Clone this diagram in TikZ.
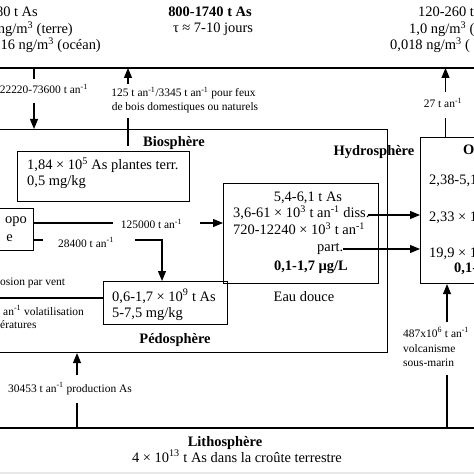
\documentclass[tikz,border=0pt]{standalone}
\usepackage{fontspec}
\setmainfont{Liberation Serif}
\usetikzlibrary{arrows.meta}
\tikzset{
  big/.style={inner sep=0pt, font=\fontsize{14.5}{17}\selectfont},
  bigb/.style={inner sep=0pt, font=\fontsize{14.5}{17}\selectfont\bfseries},
  sml/.style={inner sep=0pt, font=\fontsize{11.5}{14}\selectfont},
  bx/.style={draw, line width=1.1bp, inner sep=0pt, anchor=north west},
  ln/.style={line width=1.1bp},
  arr/.style={line width=1.1bp, -{Triangle[length=10bp,width=8bp]}},
}
\begin{document}
\begin{tikzpicture}[x=1bp,y=-1bp]
\useasboundingbox (0,0) rectangle (474,474);
\fill[white] (0,0) rectangle (474,474);
\fill[black!9] (0,472) rectangle (474,474);

% boxes
\node[bx, minimum width=397bp, minimum height=223bp] (big) at (-10,129) {};
\node[bx, minimum width=172bp, minimum height=50bp] (plant) at (17,151) {};
\node[bx, minimum width=43bp, minimum height=42bp] (anthro) at (-10,208) {};
\node[bx, minimum width=155bp, minimum height=100bp] (fresh) at (223,183) {};
\node[bx, minimum width=124bp, minimum height=43bp] (pedo) at (103,281) {};
\node[bx, minimum width=70bp, minimum height=146bp] (ocean) at (420,137) {};

% horizontal lines
\coordinate (topL) at (0,68);
\coordinate (topR) at (474,68);
\coordinate (litL) at (0,428);
\coordinate (litR) at (474,428);
\draw[ln] (topL) -- (topR);
\draw[ln] (litL) -- (litR);

% top texts
\node[big, anchor=base east] (tl1) at (38,17) {80 t As};
\node[big, anchor=base east] (tl2) at (73,34) {ng/m\textsuperscript{3} (terre)};
\node[big, anchor=base east] (tl3) at (101,50) {,16 ng/m\textsuperscript{3} (océan)};
\node[bigb, anchor=base] (tc1) at (210,17) {800-1740 t As};
\node[big, anchor=base] (tc2) at (213,33) {τ ≈ 7-10 jours};
\node[big, anchor=base west] (tr1) at (418,17) {120-260 t};
\node[big, anchor=base west] (tr2) at (409,34) {1,0 ng/m\textsuperscript{3} (};
\node[big, anchor=base west] (tr3) at (390,50) {0,018 ng/m\textsuperscript{3} (};

% arrow 1 (down)
\coordinate (a1a) at (34,68);
\coordinate (a1b) at (34,79);
\coordinate (a1c) at (34,103);
\draw[ln] (a1a) -- (a1b);
\draw[arr] (a1c) -- (big.north -| a1c);
\node[sml, anchor=base east] (l1) at (88,94) {22220-73600 t an\textsuperscript{-1}};

% arrow 2 (up)
\coordinate (a2a) at (128,146);
\coordinate (a2b) at (128,118);
\coordinate (a2c) at (128,84);
\draw[ln] (a2a) -- (a2b);
\draw[arr] (a2c) -- (topL -| a2c);
\node[sml, anchor=base] (l2a) at (183.5,97) {125 t an\textsuperscript{-1}/3345 t an\textsuperscript{-1} pour feux};
\node[sml, anchor=base] (l2b) at (185,111) {de bois domestiques ou naturels};

% arrow 3 (up)
\coordinate (a3a) at (445.5,118);
\coordinate (a3b) at (445.5,92);
\draw[ln] (ocean.north -| a3a) -- (a3a);
\draw[arr] (a3b) -- (topL -| a3b);
\node[sml, anchor=base] (l3) at (443,108) {27 t an\textsuperscript{-1}};

% biosphere
\node[bigb, anchor=base] (bio) at (174,147) {Biosphère};
\node[big, anchor=base west] (pl1) at (27,170) {1,84 × 10\textsuperscript{5} As plantes terr.};
\node[big, anchor=base west] (pl2) at (27,186) {0,5 mg/kg};

% anthroposphere
\node[big, anchor=base east] (an1) at (27,224) {opo};
\node[big, anchor=base east] (an2) at (13,241) {e};

% 125000 arrow
\coordinate (r1a) at (113,223);
\coordinate (r1b) at (200,223);
\draw[ln] (anthro.east |- r1a) -- (r1a);
\draw[arr] (r1b) -- (fresh.west |- r1b);
\node[sml, anchor=base] (lab125) at (151.5,229) {125000 t an\textsuperscript{-1}};

% 28400 arrow
\coordinate (r2a) at (43,240);
\coordinate (r2b) at (135,240);
\coordinate (r2c) at (162,240);
\draw[ln] (anthro.east |- r2a) -- (r2a);
\draw[arr] (r2b) -- (r2c) -- (pedo.north -| r2c);
\node[sml, anchor=base] (lab284) at (86,247) {28400 t an\textsuperscript{-1}};

% pedosphere
\node[big, anchor=base west] (pd1) at (112,301) {0,6-1,7 × 10\textsuperscript{9} t As};
\node[big, anchor=base west] (pd2) at (112,317) {5-7,5 mg/kg};
\node[bigb, anchor=base] (pedl) at (175,343) {Pédosphère};

% erosion / volatilisation
\coordinate (er) at (-5,298);
\draw[ln] (er) -- (pedo.west |- er);
\node[sml, anchor=base west] (er1) at (0,285) {osion par vent};
\node[sml, anchor=base west] (er2) at (3,315) {an\textsuperscript{-1} volatilisation};
\node[sml, anchor=base west] (er3) at (0,328) {ératures};

% freshwater
\node[big, anchor=base] (f1) at (308,202) {5,4-6,1 t As};
\node[big, anchor=base west] (f2) at (233,218) {3,6-61 × 10\textsuperscript{3} t an\textsuperscript{-1} diss.};
\node[big, anchor=base west] (f3) at (233,235) {720-12240 × 10\textsuperscript{3} t an\textsuperscript{-1}};
\node[big, anchor=base west] (f4) at (317,251) {part.};
\node[bigb, anchor=base] (f5) at (311,270) {0,1-1,7 µg/L};
\node[big, anchor=base] (eau) at (304,301) {Eau douce};
\node[bigb, anchor=base] (hyd) at (374,156) {Hydrosphère};

% arrows to ocean
\coordinate (d1) at (368,215);
\coordinate (p1) at (343,249);
\draw[arr] (d1) -- (ocean.west |- d1);
\draw[arr] (p1) -- (ocean.west |- p1);

% ocean texts
\node[bigb, anchor=base west] (o0) at (463,155) {O};
\node[big, anchor=base west] (o1) at (429,185) {2,38-5,1};
\node[big, anchor=base west] (o2) at (429,222) {2,33 × 1};
\node[big, anchor=base west] (o3) at (429,257) {19,9 × 1};
\node[bigb, anchor=base west] (o4) at (454,272) {0,1-};

% volcanism arrow
\coordinate (v1) at (447,322);
\coordinate (v2) at (447,375);
\draw[arr] (v1) -- (ocean.south -| v1);
\draw[ln] (litL -| v2) -- (v2);
\node[sml, anchor=base west] (vl1) at (403,337) {487x10\textsuperscript{6} t an\textsuperscript{-1}};
\node[sml, anchor=base west] (vl2) at (403,352) {volcanisme};
\node[sml, anchor=base west] (vl3) at (403,366) {sous-marin};

% production arrow
\coordinate (pr1) at (77,403);
\coordinate (pr2) at (77,375);
\draw[ln] (litL -| pr1) -- (pr1);
\draw[arr] (pr2) -- (big.south -| pr2);
\node[sml, anchor=base west] (prl) at (8,392) {30453 t an\textsuperscript{-1} production As};

% lithosphere
\node[bigb, anchor=base] (li1) at (225,446) {Lithosphère};
\node[big, anchor=base] (li2) at (237,462) {4 × 10\textsuperscript{13} t As dans la croûte terrestre};
\end{tikzpicture}
\end{document}
